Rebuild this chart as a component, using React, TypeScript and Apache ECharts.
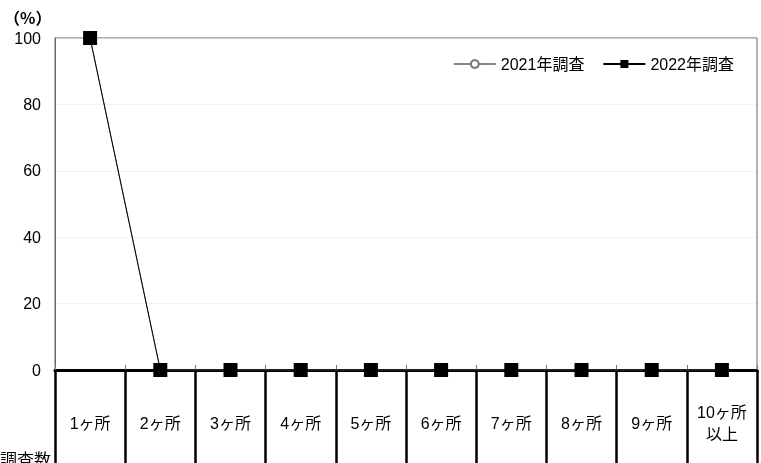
import React, { useEffect, useRef } from "react";
import * as echarts from "echarts";

const categories = ["1ヶ所", "2ヶ所", "3ヶ所", "4ヶ所", "5ヶ所", "6ヶ所", "7ヶ所", "8ヶ所", "9ヶ所", "10ヶ所\n以上"];
const values2021 = [100, 0, 0, 0, 0, 0, 0, 0, 0, 0];
const values2022 = [100, 0, 0, 0, 0, 0, 0, 0, 0, 0];
const seriesNames = ["2021年調査", "2022年調査"];
const yTicks = { min: 0, max: 100, interval: 20 };

const FONT = "'Liberation Sans', 'Noto Sans CJK JP', sans-serif";

export default function App() {
  const ref = useRef<HTMLDivElement>(null);
  useEffect(() => {
    if (!ref.current) return;
    const chart = echarts.init(ref.current, undefined, { renderer: "svg" });
    chart.setOption({
      animation: false,
      textStyle: { fontFamily: FONT },
      grid: [
        { left: 55, right: 4, top: 38, bottom: 93, show: true, borderColor: "#666", borderWidth: 1 },
        { left: 55, right: 4, top: 370, bottom: 0, show: false },
      ],
      legend: {
        right: 22,
        top: 51,
        itemWidth: 42,
        itemHeight: 10,
        itemGap: 18,
        textStyle: { fontSize: 16, color: "#000", fontFamily: FONT },
        data: seriesNames,
      },
      graphic: [
        { type: "text", left: 4, top: 9, style: { text: "（%）", fontSize: 16, fill: "#000", fontFamily: "'Noto Sans CJK JP', sans-serif", fontWeight: "bold" } },
        { type: "text", left: 0, top: 452, style: { text: "調査数", fontSize: 17, fill: "#000", fontFamily: FONT } },
      ],
      xAxis: [
        {
          type: "category",
          gridIndex: 0,
          data: categories,
          boundaryGap: true,
          axisLine: { lineStyle: { color: "#000", width: 3 } },
          axisTick: { show: true, inside: true, length: 5, lineStyle: { color: "#777", width: 1 } },
          axisLabel: {
            color: "#000",
            fontSize: 16,
            margin: 53,
            verticalAlign: "middle",
            lineHeight: 22,
            fontFamily: FONT,
          },
          splitLine: { show: false },
        },
        {
          type: "category",
          gridIndex: 1,
          data: categories,
          boundaryGap: true,
          axisLine: { show: false },
          axisTick: { show: false },
          axisLabel: { show: false },
          splitLine: { show: true, lineStyle: { color: "#000", width: 2.5 } },
        },
      ],
      yAxis: [
        {
          type: "value",
          gridIndex: 0,
          min: yTicks.min,
          max: yTicks.max,
          interval: yTicks.interval,
          axisLine: { show: true, lineStyle: { color: "#666", width: 1 } },
          axisTick: { show: false },
          axisLabel: { color: "#000", fontSize: 16, margin: 14, fontFamily: FONT },
          splitLine: { show: true, lineStyle: { color: "#e6e6d8", type: "dotted", width: 1 } },
        },
        {
          type: "value",
          gridIndex: 1,
          show: false,
          min: 0,
          max: 1,
        },
      ],
      series: [
        {
          name: seriesNames[0],
          type: "line",
          xAxisIndex: 0,
          yAxisIndex: 0,
          data: values2021,
          symbol: "circle",
          symbolSize: 7,
          lineStyle: { color: "#888", width: 1 },
          itemStyle: { color: "#fff", borderColor: "#777", borderWidth: 1 },
        },
        {
          name: seriesNames[1],
          type: "line",
          xAxisIndex: 0,
          yAxisIndex: 0,
          data: values2022,
          symbol: "rect",
          symbolSize: 14,
          lineStyle: { color: "#000", width: 1 },
          itemStyle: { color: "#000" },
        },
      ],
    });
    return () => chart.dispose();
  }, []);
  return <div ref={ref} style={{ position: "fixed", left: 0, top: 0, width: 761, height: 463 }} />;
}
